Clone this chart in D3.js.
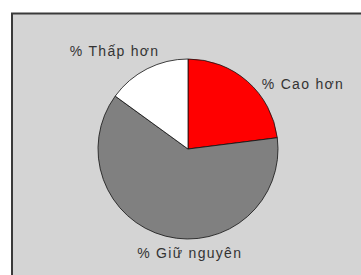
<!DOCTYPE html>
<html>
<head>
<meta charset="utf-8">
<script src="https://cdn.jsdelivr.net/npm/d3@7"></script>
<style>
  body { margin: 0; background: #fff; }
  svg { display: block; }
</style>
</head>
<body>
<script>
// slices, clockwise from 12 o'clock
var labels = ["% Cao hơn", "% Giữ nguyên", "% Thấp hơn"];
var values = [23, 62, 15];
var colors = ["#ff0000", "#808080", "#ffffff"];

var width = 361,
    height = 275;

var svg = d3.select("body").append("svg")
    .attr("width", width)
    .attr("height", height);

// grey panel with dark frame (runs off the right and bottom edge)
svg.append("rect")
    .attr("x", 12)
    .attr("y", 13.5)
    .attr("width", 360)
    .attr("height", 270)
    .attr("fill", "#d4d4d4")
    .attr("stroke", "#3a3a3a")
    .attr("stroke-width", 2);

var cx = 188, cy = 149, r = 90;

var pie = d3.pie().sort(null).value(function(d) { return d; });
var arc = d3.arc().innerRadius(0).outerRadius(r);
var arcs = pie(values);

var g = svg.append("g").attr("transform", "translate(" + cx + "," + cy + ")");

g.selectAll("path").data(arcs)
    .enter().append("path")
    .attr("d", arc)
    .attr("fill", function(d, i) { return colors[i]; })
    .attr("stroke", "#111")
    .attr("stroke-width", 0.8);

// labels sit outside the rim, nudged to where the original puts them
var labelArc = d3.arc().innerRadius(r + 14).outerRadius(r + 14);
var offsets = [[5, 18], [-25, 8], [-71, 0]];

g.selectAll("text").data(arcs)
    .enter().append("text")
    .attr("x", function(d, i) { return labelArc.centroid(d)[0] + offsets[i][0]; })
    .attr("y", function(d, i) { return labelArc.centroid(d)[1] + offsets[i][1]; })
    .attr("font-family", "Liberation Sans, Arial, sans-serif")
    .attr("font-size", 14)
    .attr("letter-spacing", 1.3)
    .attr("fill", "#333")
    .text(function(d, i) { return labels[i]; });
</script>
</body>
</html>
